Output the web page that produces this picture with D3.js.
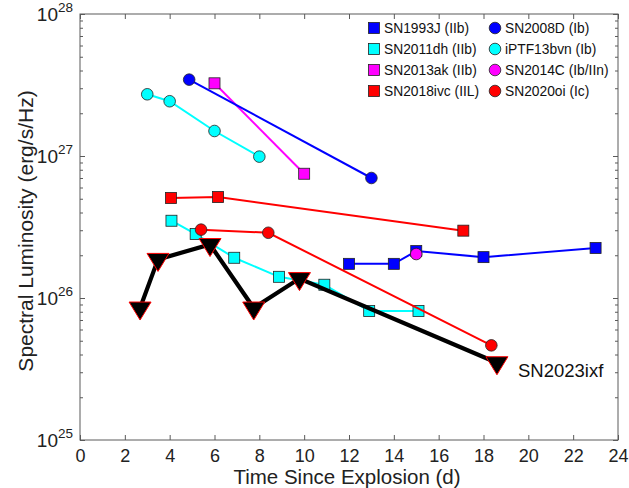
<!DOCTYPE html>
<html><head><meta charset="utf-8">
<script src="https://cdn.jsdelivr.net/npm/d3@7"></script>
<style>
body{margin:0;background:#fff}
text{font-family:"Liberation Sans",Arial,Helvetica,sans-serif}
</style>
</head><body>
<svg id="c" width="629" height="488"></svg>
<script>
// ---- data (days since explosion, spectral luminosity erg/s/Hz) ----
const sn1993J_t = [12, 14, 15, 18, 23];
const sn1993J_L = [1.74e26, 1.74e26, 2.14e26, 1.94e26, 2.25e26];
const sn2011dh_t = [4.08, 5.16, 6.88, 8.88, 10.9, 12.9, 15.1];
const sn2011dh_L = [3.5e26, 2.82e26, 1.92e26, 1.41e26, 1.24e26, 8.1e25, 8.1e25];
const sn2013ak_t = [6.0, 10.0];
const sn2013ak_L = [3.25e27, 7.5e26];
const sn2018ivc_t = [4.06, 6.16, 17.1];
const sn2018ivc_L = [5.06e26, 5.14e26, 2.98e26];
const sn2008D_t = [4.87, 13.0];
const sn2008D_L = [3.45e27, 7.0e26];
const iptf13bvn_t = [3.0, 4.0, 6.0, 8.0];
const iptf13bvn_L = [2.72e27, 2.43e27, 1.5e27, 9.9e26];
const sn2014C_t = [15.0];
const sn2014C_L = [2.04e26];
const sn2020oi_t = [5.4, 8.4, 18.35];
const sn2020oi_L = [3.03e26, 2.88e26, 4.64e25];
const sn2023ixf_t = [2.68, 3.48, 5.8, 7.75, 9.79, 18.6];
const sn2023ixf_L = [8.5e25, 1.87e26, 2.38e26, 8.5e25, 1.37e26, 3.5e25];

const legendNames = ["SN1993J (IIb)", "SN2011dh (IIb)", "SN2013ak (IIb)", "SN2018ivc (IIL)",
                     "SN2008D (Ib)", "iPTF13bvn (Ib)", "SN2014C (Ib/IIn)", "SN2020oi (Ic)"];
const xTicks = [0, 2, 4, 6, 8, 10, 12, 14, 16, 18, 20, 22, 24];
const yTicks = [1e25, 1e26, 1e27, 1e28];
const xLabel = "Time Since Explosion  (d)";
const yLabel = "Spectral Luminosity  (erg/s/Hz)";
const ixfLabel = "SN2023ixf";

const series = [
  {t: sn1993J_t, L: sn1993J_L, c: "#0000ff", m: "square", name: legendNames[0]},
  {t: sn2011dh_t, L: sn2011dh_L, c: "#00ffff", m: "square", name: legendNames[1]},
  {t: sn2013ak_t, L: sn2013ak_L, c: "#ff00ff", m: "square", name: legendNames[2]},
  {t: sn2018ivc_t, L: sn2018ivc_L, c: "#ff0000", m: "square", name: legendNames[3]},
  {t: sn2008D_t, L: sn2008D_L, c: "#0000ff", m: "circle", name: legendNames[4]},
  {t: iptf13bvn_t, L: iptf13bvn_L, c: "#00ffff", m: "circle", name: legendNames[5]},
  {t: sn2014C_t, L: sn2014C_L, c: "#ff00ff", m: "circle", name: legendNames[6]},
  {t: sn2020oi_t, L: sn2020oi_L, c: "#ff0000", m: "circle", name: legendNames[7]}
];

const svg = d3.select("#c");
const L = 80, R = 618, T = 14, B = 440;
const x = d3.scaleLinear().domain([0, 24]).range([L, R]);
const y = d3.scaleLog().domain([1e25, 1e28]).range([B, T]);
const axisCol = "#5a5a5a";

// minor log ticks
const minor = [];
for (let e = 25; e < 28; e++) for (let k = 2; k <= 9; k++) minor.push(k * Math.pow(10, e));

function styleAxis(g) {
  g.selectAll(".domain").remove();
  g.selectAll("line").attr("stroke", axisCol).attr("stroke-width", 1);
}

// bottom axis
const gx = svg.append("g").attr("transform", `translate(0,${B})`)
  .call(d3.axisBottom(x).tickValues(xTicks).tickSizeInner(-5).tickSizeOuter(0).tickPadding(9).tickFormat(d3.format("d")));
styleAxis(gx);
gx.selectAll("text").attr("font-size", 18).attr("fill", "#222");
// top axis
const gxt = svg.append("g").attr("transform", `translate(0,${T})`)
  .call(d3.axisTop(x).tickValues(xTicks).tickSizeInner(-5).tickSizeOuter(0).tickFormat(""));
styleAxis(gxt);
// left axis major + minor
const gy = svg.append("g").attr("transform", `translate(${L},0)`)
  .call(d3.axisLeft(y).tickValues(yTicks).tickSizeInner(-5).tickSizeOuter(0).tickFormat(""));
styleAxis(gy);
const gym = svg.append("g").attr("transform", `translate(${L},0)`)
  .call(d3.axisLeft(y).tickValues(minor).tickSizeInner(-3).tickSizeOuter(0).tickFormat(""));
styleAxis(gym);
// right axis
const gyr = svg.append("g").attr("transform", `translate(${R},0)`)
  .call(d3.axisRight(y).tickValues(yTicks).tickSizeInner(-5).tickSizeOuter(0).tickFormat(""));
styleAxis(gyr);
const gyrm = svg.append("g").attr("transform", `translate(${R},0)`)
  .call(d3.axisRight(y).tickValues(minor).tickSizeInner(-3).tickSizeOuter(0).tickFormat(""));
styleAxis(gyrm);

// y labels with superscripts
yTicks.forEach(v => {
  const e = Math.round(Math.log10(v));
  const t = svg.append("text").attr("x", 73).attr("y", y(v) + 7)
    .attr("text-anchor", "end").attr("fill", "#222");
  t.append("tspan").attr("font-size", 19).text("10");
  t.append("tspan").attr("font-size", 13.5).attr("dy", -9).text(String(e));
});

// box
svg.append("rect").attr("x", L).attr("y", T).attr("width", R - L).attr("height", B - T)
  .attr("fill", "none").attr("stroke", axisCol).attr("stroke-width", 1);

// axis titles
svg.append("text").attr("x", (L + R) / 2 - 2).attr("y", 483.5).attr("text-anchor", "middle")
  .attr("font-size", 20.5).attr("fill", "#222").text(xLabel);
svg.append("text").attr("transform", `translate(33,${(T + B) / 2 + 4}) rotate(-90)`)
  .attr("text-anchor", "middle").attr("font-size", 21).attr("fill", "#222").text(yLabel);

const line = d3.line().x(d => x(d[0])).y(d => y(d[1]));

function drawMarker(g, m, cx, cy, col) {
  if (m === "square") {
    g.append("rect").attr("x", cx - 5.5).attr("y", cy - 5.5).attr("width", 11).attr("height", 11)
      .attr("fill", col).attr("stroke", "#222").attr("stroke-width", 0.8);
  } else {
    g.append("circle").attr("cx", cx).attr("cy", cy).attr("r", 5.8)
      .attr("fill", col).attr("stroke", "#222").attr("stroke-width", 0.8);
  }
}

const plot = svg.append("g");
series.forEach(s => {
  const pts = s.t.map((t, i) => [t, s.L[i]]);
  const g = plot.append("g");
  if (pts.length > 1)
    g.append("path").attr("d", line(pts)).attr("fill", "none").attr("stroke", s.c).attr("stroke-width", 2);
  pts.forEach(p => drawMarker(g, s.m, x(p[0]), y(p[1]), s.c));
});

// SN2023ixf
const ixf = sn2023ixf_t.map((t, i) => [t, sn2023ixf_L[i]]);
const gi = plot.append("g");
gi.append("path").attr("d", line(ixf)).attr("fill", "none").attr("stroke", "#000")
  .attr("stroke-width", 4.2).attr("stroke-linejoin", "miter");
ixf.forEach(p => {
  const cx = x(p[0]), cy = y(p[1]);
  gi.append("path").attr("d", `M${cx - 11},${cy - 6}L${cx + 11},${cy - 6}L${cx},${cy + 12}Z`)
    .attr("fill", "#000").attr("stroke", "#ff0000").attr("stroke-width", 1);
});
svg.append("text").attr("x", 518).attr("y", 377).attr("font-size", 18.5).attr("fill", "#111").text(ixfLabel);

// legend
const lg = svg.append("g");
series.forEach((s, i) => {
  const col = Math.floor(i / 4), row = i % 4;
  const mx = col === 0 ? 374 : 495;
  const my = 28 + row * 21;
  drawMarker(lg, s.m, mx, my, s.c);
  lg.append("text").attr("x", mx + 10).attr("y", my + 5).attr("font-size", 13.8)
    .attr("fill", "#111").text(s.name);
});
</script>
</body></html>
